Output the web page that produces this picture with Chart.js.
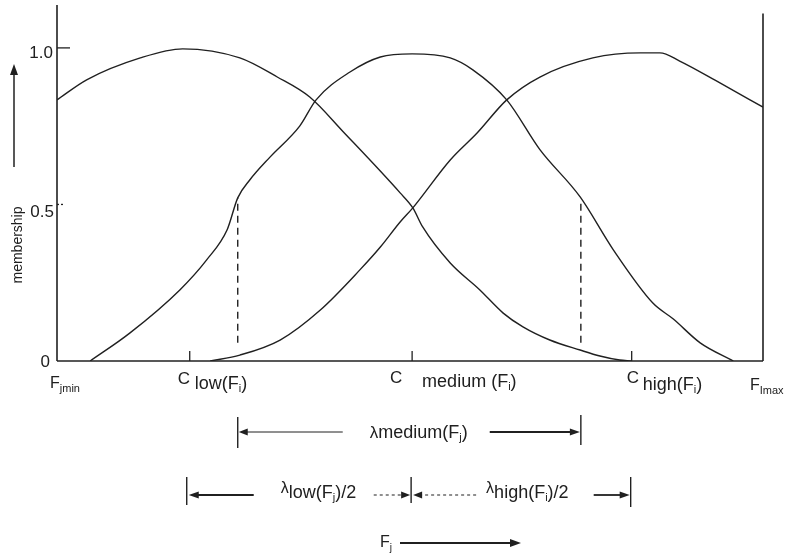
<!DOCTYPE html>
<html>
<head>
<meta charset="utf-8">
<script src="https://cdn.jsdelivr.net/npm/chart.js@4.4.1/dist/chart.umd.min.js"></script>
<style>
  html, body { margin: 0; padding: 0; background: #ffffff; }
  #wrap { width: 789px; height: 557px; position: relative; }
</style>
</head>
<body>
<div id="wrap"><canvas id="c"></canvas></div>
<script>
// ---- data (x: 0 = Fj,min ... 100 = Fj,max ; y: membership) ----
const lowX  = [0, 4.2, 11.8, 17.8, 25.9, 31.2, 35.8, 40.5, 48.6, 50.4, 51.8, 55.7, 59.9, 63.2, 66.0, 69.8, 74.1, 76.9, 79.7, 81.3];
const lowY  = [0.834, 0.898, 0.968, 0.997, 0.968, 0.907, 0.843, 0.733, 0.537, 0.489, 0.428, 0.313, 0.227, 0.153, 0.109, 0.067, 0.035, 0.016, 0.003, 0];

const medX  = [4.7, 10.3, 17.4, 21.2, 24.1, 25.6, 27.3, 30.2, 34.4, 36.7, 41.5, 45.8, 50.3, 55.7, 58.9, 63.7, 68.4, 74.1, 78.8, 84.4, 87.3, 91.1, 95.8];
const medY  = [0, 0.089, 0.227, 0.323, 0.419, 0.521, 0.578, 0.652, 0.751, 0.834, 0.923, 0.971, 0.981, 0.968, 0.930, 0.834, 0.675, 0.524, 0.355, 0.185, 0.134, 0.058, 0];

const highX = [21.7, 25.9, 31.6, 37.3, 42.9, 45.8, 48.6, 50.4, 55.7, 59.5, 63.7, 68.4, 75.9, 82.6, 85.4, 88.2, 93.9, 100];
const highY = [0, 0.019, 0.067, 0.163, 0.291, 0.364, 0.444, 0.489, 0.642, 0.728, 0.834, 0.907, 0.968, 0.984, 0.984, 0.958, 0.888, 0.811];

// centres C_low, C_medium, C_high
const centerNames  = ['low', 'medium', 'high'];
const centerValues = [18.8, 50.3, 81.4];
// half-width markers (dashed lines) for lambda_medium
const dashX    = [25.6, 74.2];
const dashTop  = [0.521, 0.514];
const dashBot  = [0.058, 0.058];

const yTickValues = [0, 0.5, 1.0];
const yTickLabels = ['0', '0.5', '1.0'];

const X_MIN = 0, X_MAX = 100, Y_MAX = 1.137, RIGHT_AXIS_TOP = 1.11;

const zip = (xs, ys) => xs.map((x, i) => ({ x: x, y: ys[i] }));
const INK = '#202020';
const FONT = '"Liberation Sans", Arial, Helvetica, sans-serif';

function rich(ctx, x, y, parts, align) {
  // parts: [text, size, dy]
  let w = 0;
  parts.forEach(p => { ctx.font = p[1] + 'px ' + FONT; w += ctx.measureText(p[0]).width; });
  let cx = align === 'center' ? x - w / 2 : (align === 'right' ? x - w : x);
  ctx.textAlign = 'left';
  ctx.textBaseline = 'alphabetic';
  parts.forEach(p => {
    ctx.font = p[1] + 'px ' + FONT;
    ctx.fillText(p[0], cx, y + (p[2] || 0));
    cx += ctx.measureText(p[0]).width;
  });
  return w;
}

function arrowHead(ctx, tipX, tipY, dir, len, half) {
  ctx.beginPath();
  if (dir === 'up') {
    ctx.moveTo(tipX, tipY);
    ctx.lineTo(tipX - half, tipY + len);
    ctx.lineTo(tipX + half, tipY + len);
  } else {
    ctx.moveTo(tipX, tipY);
    ctx.lineTo(tipX - dir * len, tipY - half);
    ctx.lineTo(tipX - dir * len, tipY + half);
  }
  ctx.closePath();
  ctx.fill();
}

function hLine(ctx, x1, x2, y, dash) {
  ctx.save();
  if (dash) ctx.setLineDash(dash);
  ctx.beginPath(); ctx.moveTo(x1, y); ctx.lineTo(x2, y); ctx.stroke();
  ctx.restore();
}
function vLine(ctx, x, y1, y2) {
  ctx.beginPath(); ctx.moveTo(x, y1); ctx.lineTo(x, y2); ctx.stroke();
}

const decor = {
  id: 'decor',
  afterDatasetsDraw(chart) {
    const ctx = chart.ctx;
    const xs = chart.scales.x, ys = chart.scales.y;
    const X = v => xs.getPixelForValue(v);
    const Y = v => ys.getPixelForValue(v);
    const x0 = X(X_MIN), x1 = X(X_MAX), y0 = Y(0);
    ctx.save();
    ctx.strokeStyle = INK; ctx.fillStyle = INK;

    // axes
    ctx.lineWidth = 1.6;
    vLine(ctx, x0, Y(Y_MAX), y0);
    vLine(ctx, x1, Y(RIGHT_AXIS_TOP), y0);
    hLine(ctx, x0, x1, y0);

    // y ticks (inside)
    ctx.lineWidth = 1.3;
    hLine(ctx, x0, x0 + 13, Y(1.0));
    hLine(ctx, x0, x0 + 6, Y(0.5), [2, 2]);
    // y labels
    ctx.font = '17px ' + FONT;
    ctx.textAlign = 'right'; ctx.textBaseline = 'alphabetic';
    ctx.fillText(yTickLabels[2], x0 - 4, Y(yTickValues[2]) + 10);
    ctx.fillText(yTickLabels[1], x0 - 3, Y(yTickValues[1]) + 13);
    ctx.fillText(yTickLabels[0], x0 - 7, Y(yTickValues[0]) + 6);

    // x ticks at centres (inside, upward)
    centerValues.forEach(v => vLine(ctx, X(v), y0 - 10, y0));

    // x labels
    rich(ctx, x0 - 7, y0 + 27, [['F', 16, 0], ['jmin', 11, 4]]);
    rich(ctx, X(centerValues[0]) - 12, y0 + 23, [['C', 17, 0]]);
    rich(ctx, X(centerValues[0]) + 5, y0 + 28, [['low(F', 18, 0], ['i', 11, 3], [')', 18, 0]]);
    rich(ctx, X(centerValues[1]) - 22, y0 + 22, [['C', 17, 0]]);
    rich(ctx, X(centerValues[1]) + 10, y0 + 26, [['medium (F', 18, 0], ['i', 11, 3], [')', 18, 0]]);
    rich(ctx, X(centerValues[2]) - 5, y0 + 22, [['C', 17, 0]]);
    rich(ctx, X(centerValues[2]) + 11, y0 + 29, [['high(F', 18, 0], ['i', 11, 3], [')', 18, 0]]);
    rich(ctx, x1 - 13, y0 + 29, [['F', 16, 0], ['Imax', 11, 4]]);

    // y axis title + arrow
    ctx.save();
    ctx.translate(17, 245);
    ctx.rotate(-Math.PI / 2);
    rich(ctx, 0, 5, [['membership', 14, 0]], 'center');
    ctx.restore();
    ctx.lineWidth = 1.5;
    vLine(ctx, 14, 167, 72);
    arrowHead(ctx, 14, 64, 'up', 11, 4);

    // lambda_medium row
    const ra = 432;
    const dl = X(dashX[0]), dr = X(dashX[1]);
    ctx.lineWidth = 1.4;
    vLine(ctx, dl, ra - 15, ra + 16);
    vLine(ctx, dr, ra - 17, ra + 13);
    ctx.lineWidth = 1.0;
    hLine(ctx, dl + 5, dl + 105, ra);
    arrowHead(ctx, dl + 1, ra, -1, 9, 3.5);
    ctx.lineWidth = 1.8;
    hLine(ctx, dl + 252, dr - 8, ra);
    arrowHead(ctx, dr - 1, ra, 1, 10, 3.5);
    rich(ctx, dl + 132, ra + 6, [['λ', 17, 0], ['medium(F', 18, 0], ['j', 11, 3], [')', 18, 0]]);

    // lambda_low/2 , lambda_high/2 row
    const rb = 495;
    const cl = X(centerValues[0]) - 3, cm = X(centerValues[1]) - 1, ch = X(centerValues[2]) - 1;
    ctx.lineWidth = 1.4;
    vLine(ctx, cl, rb - 18, rb + 10);
    vLine(ctx, cm, rb - 18, rb + 8);
    vLine(ctx, ch, rb - 18, rb + 12);
    ctx.lineWidth = 1.8;
    hLine(ctx, cl + 8, cl + 67, rb);
    arrowHead(ctx, cl + 2, rb, -1, 10, 3.5);
    ctx.lineWidth = 1.0;
    hLine(ctx, cl + 187, cm - 8, rb, [3, 3]);
    arrowHead(ctx, cm - 1, rb, 1, 9, 3.5);
    hLine(ctx, cm + 8, cm + 66, rb, [3, 3]);
    arrowHead(ctx, cm + 2, rb, -1, 9, 3.5);
    ctx.lineWidth = 1.8;
    hLine(ctx, ch - 37, ch - 8, rb);
    arrowHead(ctx, ch - 1, rb, 1, 10, 3.5);
    rich(ctx, cl + 94, rb - 2, [['λ', 16, 0], ['low(F', 18, 5], ['j', 11, 8], [')/2', 18, 5]]);
    rich(ctx, cm + 75, rb - 2, [['λ', 16, 0], ['high(F', 18, 5], ['i', 11, 8], [')/2', 18, 5]]);

    // F_j arrow
    rich(ctx, 380, 547, [['F', 16, 0], ['j', 10, 4]]);
    ctx.lineWidth = 2;
    hLine(ctx, 400, 511, 543);
    arrowHead(ctx, 521, 543, 1, 11, 4);

    ctx.restore();
  }
};

const lineStyle = {
  borderColor: INK, borderWidth: 1.4, pointRadius: 0, fill: false,
  tension: 0.4, cubicInterpolationMode: 'monotone'
};

new Chart(document.getElementById('c'), {
  type: 'line',
  data: {
    datasets: [
      Object.assign({ label: 'low', data: zip(lowX, lowY) }, lineStyle),
      Object.assign({ label: 'medium', data: zip(medX, medY) }, lineStyle),
      Object.assign({ label: 'high', data: zip(highX, highY) }, lineStyle),
      { label: 'dash1', data: [{ x: dashX[0], y: dashBot[0] }, { x: dashX[0], y: dashTop[0] }],
        borderColor: INK, borderWidth: 1.4, borderDash: [7, 5], pointRadius: 0, tension: 0 },
      { label: 'dash2', data: [{ x: dashX[1], y: dashBot[1] }, { x: dashX[1], y: dashTop[1] }],
        borderColor: INK, borderWidth: 1.4, borderDash: [7, 5], pointRadius: 0, tension: 0 }
    ]
  },
  options: {
    responsive: true,
    maintainAspectRatio: false,
    animation: false,
    parsing: true,
    layout: { padding: { left: 57, right: 26, top: 5, bottom: 196 } },
    scales: {
      x: { type: 'linear', min: X_MIN, max: X_MAX, display: false },
      y: { type: 'linear', min: 0, max: Y_MAX, display: false }
    },
    plugins: { legend: { display: false }, tooltip: { enabled: false } }
  },
  plugins: [decor]
});
</script>
</body>
</html>
